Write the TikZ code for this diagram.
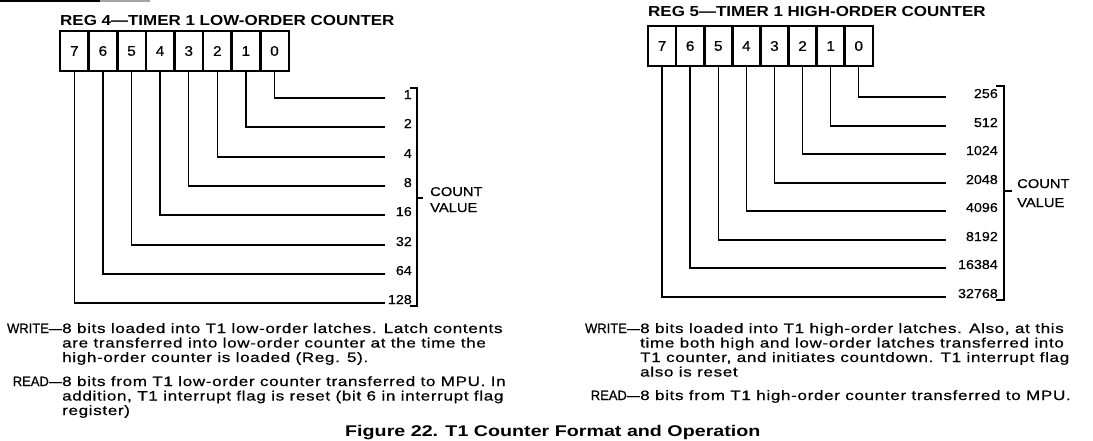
\documentclass[tikz,border=0pt]{standalone}
\usepackage{fontspec}
\setmainfont{Liberation Sans}
\newfontfamily\bodyf[FakeStretch=1.26,LetterSpace=5,FakeBold=0.6]{Liberation Sans}
\newfontfamily\capsf[FakeStretch=0.96,FakeBold=0.6]{Liberation Sans}
\newfontfamily\cvf[FakeStretch=1.15,FakeBold=0.6]{Liberation Sans}
\newfontfamily\numf[FakeStretch=1.1,FakeBold=0.6]{Liberation Sans}
\newfontfamily\titf[FakeStretch=1.17]{Liberation Sans}
\newfontfamily\figf[FakeStretch=1.27]{Liberation Sans}
\begin{document}
\begin{tikzpicture}[x=1pt,y=-1pt,
  cell/.style={draw, line width=2.6pt, minimum height=40pt, inner sep=0pt, outer sep=0pt,
    anchor=north west, font=\numf\fontsize{14}{16}\selectfont},
  val/.style={anchor=base east, inner sep=0pt, font=\numf\fontsize{13}{15}\selectfont},
  body/.style={anchor=base west, inner sep=0pt, font=\bodyf\fontsize{13.5}{15}\selectfont},
  lab/.style={anchor=base east, inner sep=0pt, font=\capsf\fontsize{13.5}{15}\selectfont},
  cv/.style={anchor=base west, inner sep=0pt, font=\cvf\fontsize{12.8}{15}\selectfont},
  ttl/.style={anchor=base west, inner sep=0pt, font=\titf\bfseries\fontsize{14.5}{16}\selectfont},
  wire/.style={line width=1.4pt}]
\useasboundingbox (0,0) rectangle (1093,440);
% top-left rule remnant
\draw[line width=2.5pt] (0,1.2) -- (100,1.2);
\draw[line width=2pt, black!35] (100,1.2) -- (150,1.2);

% ---------- REG 4 ----------
\node[ttl] (t4) at (60,25) {REG 4—TIMER 1 LOW-ORDER COUNTER};
\foreach \b [count=\k from 0] in {7,6,5,4,3,2,1,0}
  \node[cell, minimum width=28.6pt] (L\b) at ({60+\k*28.6},31) {\b};
\foreach \b/\v in {0/1,1/2,2/4,3/8,4/16,5/32,6/64,7/128} {
  \pgfmathsetmacro\yy{round(98+\b*29.3)}
  \coordinate (le\b) at (385,\yy);
  \node[val] (lv\b) at (412,\yy+1) {\v};
  \draw[wire] (L\b.south) |- (le\b);
}
\draw[wire] (410,88) -- (417,88) -- (417,306) -- (410,306);
\draw[wire] (417,198) -- (423,198);
\node[cv] (lc1) at (430,196) {COUNT};
\node[cv] (lc2) at (430,212) {VALUE};

% ---------- REG 5 ----------
\node[ttl] (t5) at (648,16) {REG 5—TIMER 1 HIGH-ORDER COUNTER};
\foreach \b [count=\k from 0] in {7,6,5,4,3,2,1,0}
  \node[cell, minimum width=28.1pt] (R\b) at ({648+\k*28.1},26) {\b};
\foreach \b/\v in {0/256,1/512,2/1024,3/2048,4/4096,5/8192,6/16384,7/32768} {
  \pgfmathsetmacro\yy{round(97+\b*28.57)}
  \coordinate (re\b) at (946,\yy);
  \node[val] (rv\b) at (998,\yy+1) {\v};
  \draw[wire] (R\b.south) |- (re\b);
}
\draw[wire] (996,86) -- (1004,86) -- (1004,300) -- (996,300);
\draw[wire] (1004,191) -- (1012,191);
\node[cv] (rc1) at (1017,188) {COUNT};
\node[cv] (rc2) at (1017,207) {VALUE};

% ---------- left text ----------
\node[lab] (lw) at (62,333) {WRITE—};
\node[body] (lw1) at (62,333) {8 bits loaded into T1 low-order latches. Latch contents};
\node[body] (lw2) at (62,347.5) {are transferred into low-order counter at the time the};
\node[body] (lw3) at (62,362) {high-order counter is loaded (Reg. 5).};
\node[lab] (lr) at (62,386) {READ—};
\node[body] (lr1) at (62,386) {8 bits from T1 low-order counter transferred to MPU. In};
\node[body] (lr2) at (62,400.5) {addition, T1 interrupt flag is reset (bit 6 in interrupt flag};
\node[body] (lr3) at (62,415) {register)};

% ---------- right text ----------
\node[lab] (rw) at (640,333) {WRITE—};
\node[body] (rw1) at (640,333) {8 bits loaded into T1 high-order latches. Also, at this};
\node[body] (rw2) at (640,347.5) {time both high and low-order latches transferred into};
\node[body] (rw3) at (640,362) {T1 counter, and initiates countdown. T1 interrupt flag};
\node[body] (rw4) at (640,376.5) {also is reset};
\node[lab] (rr) at (640,400) {READ—};
\node[body] (rr1) at (640,400) {8 bits from T1 high-order counter transferred to MPU.};

% ---------- caption ----------
\node[anchor=base west, inner sep=0pt, font=\figf\bfseries\fontsize{15.5}{18}\selectfont] (cap)
  at (345,436) {Figure 22. T1 Counter Format and Operation};
\end{tikzpicture}
\end{document}
